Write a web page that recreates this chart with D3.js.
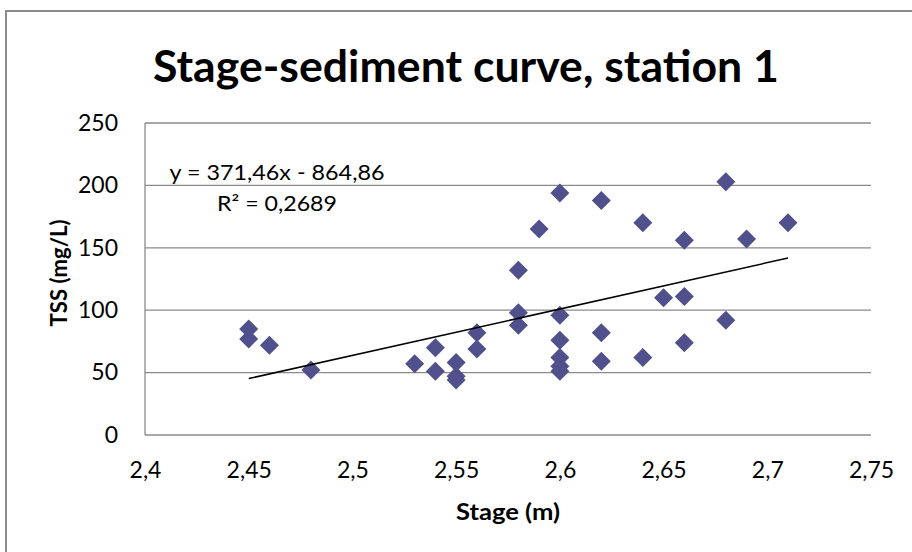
<!DOCTYPE html>
<html>
<head>
    <title>Stage-sediment curve</title>
    <style>
        html, body {
            margin: 0;
            padding: 0;
            background-color: #ffffff;
            overflow: hidden;
        }
        text {
            font-family: Lato, "Open Sans", sans-serif;
            fill: #000000;
        }
    </style>
</head>
<body>
    <div id="container"></div>

    <script src="https://d3js.org/d3.v7.min.js"></script>

    <script>
        // data
        var stage = [2.45, 2.45, 2.46, 2.48, 2.53, 2.54, 2.54, 2.55, 2.55, 2.55,
            2.56, 2.56, 2.58, 2.58, 2.58, 2.59, 2.6, 2.6, 2.6, 2.6, 2.6, 2.6,
            2.62, 2.62, 2.62, 2.64, 2.64, 2.65, 2.66, 2.66, 2.66, 2.68, 2.68, 2.69, 2.71];
        var tss = [85, 77, 72, 52, 57, 70, 51, 58, 47, 44,
            82, 69, 132, 98, 88, 165, 194, 96, 76, 62, 55, 51,
            188, 82, 59, 170, 62, 110, 156, 111, 74, 203, 92, 157, 170];

        var xTicks = [2.4, 2.45, 2.5, 2.55, 2.6, 2.65, 2.7, 2.75];
        var yTicks = [0, 50, 100, 150, 200, 250];

        var trendSlope = 371.46;
        var trendIntercept = -864.86;
        var trendRange = [2.45, 2.71];
        var equationText = "y = 371,46x - 864,86";
        var r2Text = "R² = 0,2689";

        var width = 912, height = 552;
        var margin = { top: 123, right: 41, bottom: 117, left: 145 };
        var plotW = width - margin.left - margin.right;
        var plotH = height - margin.top - margin.bottom;

        var commaFmt = function (d) { return String(d).replace(".", ","); };

        var svg = d3.select("div#container")
            .append("svg")
            .attr("width", width)
            .attr("height", height);

        // chart frame (runs off the right and bottom of the picture)
        svg.append("rect")
            .attr("x", 6)
            .attr("y", 11)
            .attr("width", width + 20)
            .attr("height", height + 20)
            .style("fill", "none")
            .style("stroke", "#8c8c8c")
            .style("stroke-width", 2);

        svg.append("text")
            .attr("x", 466)
            .attr("y", 82)
            .attr("text-anchor", "middle")
            .attr("textLength", 626)
            .attr("lengthAdjust", "spacingAndGlyphs")
            .style("font-size", "44px")
            .style("font-weight", "bold")
            .text("Stage-sediment curve, station 1");

        var x = d3.scaleLinear().domain([2.4, 2.75]).range([0, plotW]);
        var y = d3.scaleLinear().domain([0, 250]).range([plotH, 0]);

        var g = svg.append("g")
            .attr("transform", "translate(" + margin.left + "," + margin.top + ")");

        // horizontal gridlines
        g.selectAll("line.grid")
            .data(yTicks)
            .enter().append("line")
            .attr("class", "grid")
            .attr("x1", 0)
            .attr("x2", plotW)
            .attr("y1", function (d) { return y(d); })
            .attr("y2", function (d) { return y(d); })
            .style("stroke", "#8a8a8a")
            .style("stroke-width", 1.3);

        // left axis line
        g.append("line")
            .attr("x1", 0).attr("x2", 0)
            .attr("y1", 0).attr("y2", plotH)
            .style("stroke", "#8a8a8a")
            .style("stroke-width", 1.3);

        // y axis
        var yAxis = g.append("g")
            .call(d3.axisLeft(y).tickValues(yTicks).tickSize(0).tickPadding(27).tickFormat(commaFmt));
        yAxis.select(".domain").remove();
        yAxis.selectAll("text")
            .style("font-family", "Lato, sans-serif")
            .style("font-size", "23px")
            .style("fill", "#000");

        // x axis
        var xAxis = g.append("g")
            .attr("transform", "translate(0," + plotH + ")")
            .call(d3.axisBottom(x).tickValues(xTicks).tickSize(0).tickPadding(27).tickFormat(commaFmt));
        xAxis.select(".domain").remove();
        xAxis.selectAll("text")
            .style("font-family", "Lato, sans-serif")
            .style("font-size", "23px")
            .style("fill", "#000");

        // axis titles
        svg.append("text")
            .attr("x", 508)
            .attr("y", 520)
            .attr("text-anchor", "middle")
            .attr("textLength", 104)
            .attr("lengthAdjust", "spacingAndGlyphs")
            .style("font-size", "23px")
            .style("font-weight", "bold")
            .text("Stage (m)");

        svg.append("text")
            .attr("transform", "translate(67,273) rotate(-90)")
            .attr("text-anchor", "middle")
            .attr("textLength", 107)
            .attr("lengthAdjust", "spacingAndGlyphs")
            .style("font-size", "22px")
            .style("font-weight", "bold")
            .text("TSS (mg/L)");

        // points
        var pts = stage.map(function (s, i) { return { x: s, y: tss[i] }; });
        var r = 9.5;
        g.selectAll("path.pt")
            .data(pts)
            .enter().append("path")
            .attr("class", "pt")
            .attr("d", function (d) {
                var cx = x(d.x), cy = y(d.y);
                return "M" + cx + "," + (cy - r) + "L" + (cx + r) + "," + cy +
                    "L" + cx + "," + (cy + r) + "L" + (cx - r) + "," + cy + "Z";
            })
            .style("fill", "#50508c");

        // linear trendline
        g.append("line")
            .attr("x1", x(trendRange[0]))
            .attr("y1", y(trendSlope * trendRange[0] + trendIntercept))
            .attr("x2", x(trendRange[1]))
            .attr("y2", y(trendSlope * trendRange[1] + trendIntercept))
            .style("stroke", "#000")
            .style("stroke-width", 1.5);

        // trendline label
        svg.append("text")
            .attr("x", 277)
            .attr("y", 180)
            .attr("text-anchor", "middle")
            .attr("textLength", 215)
            .attr("lengthAdjust", "spacingAndGlyphs")
            .style("font-size", "21px")
            .text(equationText);

        svg.append("text")
            .attr("x", 277)
            .attr("y", 211)
            .attr("text-anchor", "middle")
            .attr("textLength", 120)
            .attr("lengthAdjust", "spacingAndGlyphs")
            .style("font-size", "21px")
            .text(r2Text);
    </script>
</body>
</html>
